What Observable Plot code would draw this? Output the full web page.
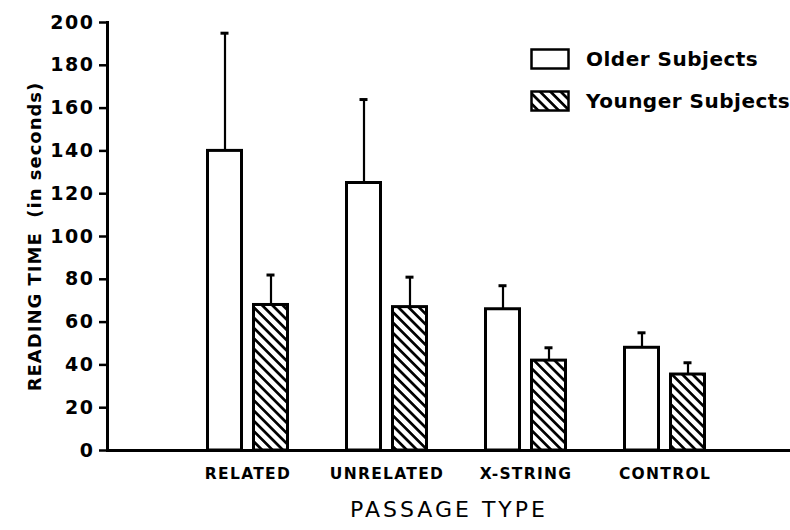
<!DOCTYPE html>
<html>
<head>
<meta charset="utf-8">
<script src="https://cdn.jsdelivr.net/npm/d3@7"></script>
<script src="https://cdn.jsdelivr.net/npm/@observablehq/plot@0.6"></script>
<style>
  html, body { margin: 0; padding: 0; background: #fff; }
  #wrap { position: relative; width: 790px; height: 530px; overflow: hidden; font-family: "DejaVu Sans", sans-serif; color: #000; }
  #wrap svg { display: block; }
  #wrap g[aria-label="y-axis tick label"] text { font: bold 19px "DejaVu Sans", sans-serif; letter-spacing: 1.5px; }
  #wrap g[aria-label="x-axis tick label"] text { font: bold 15.5px "DejaVu Sans", sans-serif; letter-spacing: 1.3px; }
  #wrap g[aria-label="y-axis label"] text { font: bold 18px "DejaVu Sans", sans-serif; letter-spacing: 1px; white-space: pre; }
  #wrap g[aria-label="x-axis label"] text { font: normal 22px "DejaVu Sans", sans-serif; letter-spacing: 3px; }
  .legend-row { position: absolute; left: 530px; display: flex; align-items: center; white-space: nowrap; }
  .legend-row svg { margin-right: 16px; }
  .legend-row span { font: bold 20px "DejaVu Sans", sans-serif; letter-spacing: 0.5px; }
</style>
</head>
<body>
<div id="wrap"></div>
<script>
// ---- data ----
const categories = ["RELATED", "UNRELATED", "X-STRING", "CONTROL"];
const seriesNames = ["Older Subjects", "Younger Subjects"];
const olderMeans = [140, 125, 66, 48];
const olderErrors = [55, 39, 11, 7];
const youngerMeans = [68, 67, 42, 35.5];
const youngerErrors = [14, 14, 6, 5.5];
const yTicks = [0, 20, 40, 60, 80, 100, 120, 140, 160, 180, 200];
const yLabel = "READING TIME\u00a0 (in seconds)";
const xLabel = "PASSAGE TYPE";

const older = categories.map((c, i) => ({category: c, series: seriesNames[0], mean: olderMeans[i], top: olderMeans[i] + olderErrors[i]}));
const younger = categories.map((c, i) => ({category: c, series: seriesNames[1], mean: youngerMeans[i], top: youngerMeans[i] + youngerErrors[i]}));

const chart = Plot.plot({
  width: 790,
  height: 530,
  marginLeft: 107,
  marginRight: 0,
  marginTop: 22,
  marginBottom: 80,
  style: {background: "white", color: "black", fontFamily: "DejaVu Sans, sans-serif"},
  x: {domain: categories, range: [177.5, 733.5], padding: 0},
  y: {domain: [0, 200]},
  marks: [
    Plot.barY(older, {x: "category", y: "mean", fill: "white", stroke: "black", strokeWidth: 3, insetLeft: 29.5, insetRight: 75.5}),
    Plot.barY(younger, {x: "category", y: "mean", fill: "url(#hatch)", stroke: "black", strokeWidth: 3, insetLeft: 75.5, insetRight: 29.5}),
    Plot.ruleX(older, {x: "category", y1: "mean", y2: "top", dx: -23, stroke: "black", strokeWidth: 2.2}),
    Plot.ruleX(younger, {x: "category", y1: "mean", y2: "top", dx: 23, stroke: "black", strokeWidth: 2.2}),
    Plot.tickY(older, {x: "category", y: "top", insetLeft: 42.5, insetRight: 88.5, stroke: "black", strokeWidth: 3}),
    Plot.tickY(younger, {x: "category", y: "top", insetLeft: 88.5, insetRight: 42.5, stroke: "black", strokeWidth: 3}),
    Plot.frame({anchor: "left", stroke: "black", strokeWidth: 3}),
    Plot.ruleY([0], {stroke: "black", strokeWidth: 3}),
    Plot.axisY({ticks: yTicks, tickSize: 8, tickPadding: 5, strokeWidth: 2.5,
      label: yLabel, labelAnchor: "center", labelArrow: "none", labelOffset: 79}),
    Plot.axisX({tickSize: 0, tickPadding: 17, label: xLabel, labelAnchor: "center", labelArrow: "none", labelOffset: 66})
  ]
});

// hatch pattern definition
const defs = d3.select(chart).insert("defs", ":first-child");
const pat = defs.append("pattern").attr("id", "hatch").attr("patternUnits", "userSpaceOnUse")
  .attr("width", 7.3).attr("height", 7.3).attr("patternTransform", "rotate(45)");
pat.append("rect").attr("width", 7.3).attr("height", 7.3).attr("fill", "white");
pat.append("rect").attr("width", 7.3).attr("height", 2.7).attr("fill", "black");

const wrap = document.getElementById("wrap");
wrap.appendChild(chart);

// legend overlaid at top right
const legendTops = [47, 89];
seriesNames.forEach((name, i) => {
  const row = document.createElement("div");
  row.className = "legend-row";
  row.style.top = legendTops[i] + "px";
  const pid = "hatchL" + i;
  row.innerHTML =
    `<svg width="40" height="22" viewBox="0 0 40 22">` +
    `<defs><pattern id="${pid}" patternUnits="userSpaceOnUse" width="7.3" height="7.3" patternTransform="rotate(45)">` +
    `<rect width="7.3" height="7.3" fill="white"/><rect width="7.3" height="2.7" fill="black"/></pattern></defs>` +
    `<rect x="1.5" y="1.5" width="37" height="19" fill="${i === 0 ? "white" : "url(#" + pid + ")"}" stroke="black" stroke-width="2.5"/></svg>` +
    `<span>${name}</span>`;
  wrap.appendChild(row);
});
</script>
</body>
</html>
